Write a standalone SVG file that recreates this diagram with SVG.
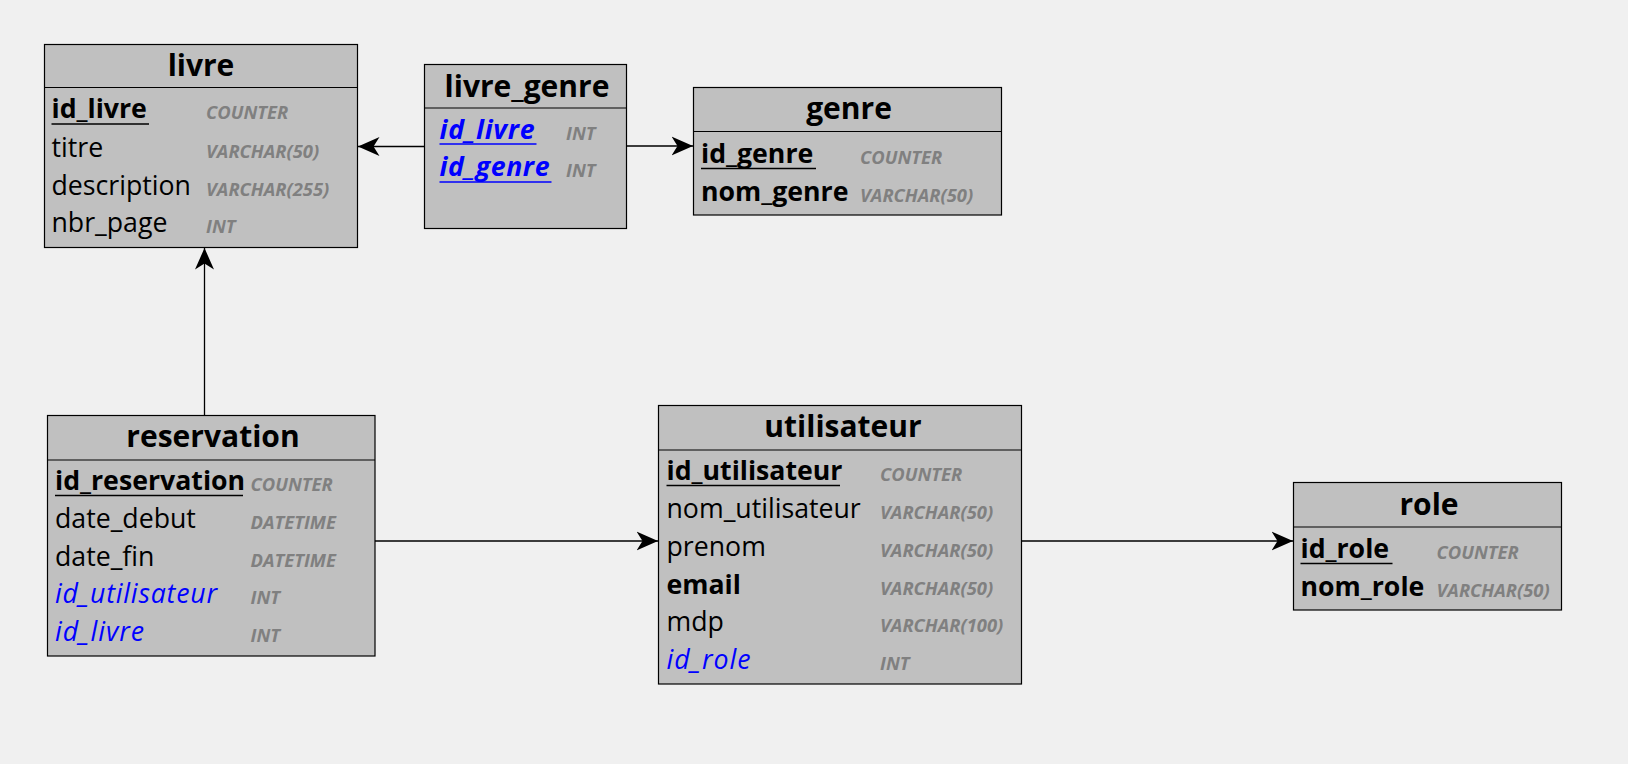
<svg xmlns="http://www.w3.org/2000/svg" width="1628" height="764" viewBox="0 0 1628 764">
<style>
.box{fill:#c0c0c0;stroke:#000;stroke-width:1.2}
.sep{stroke:#000;stroke-width:1.2}
.ttl{font-family:"Open Sans","Noto Sans",sans-serif;font-weight:bold;font-size:30px;fill:#000;text-anchor:middle}
.at{font-family:"Open Sans","Noto Sans",sans-serif;font-size:26.7px;fill:#000}
.b{font-weight:bold}
.fk{fill:#0000ff;font-style:italic}
.ty{font-family:"Open Sans","Noto Sans",sans-serif;font-size:18.4px;font-weight:bold;font-style:italic;fill:#808080}
.ul{stroke:#000;stroke-width:1.5}
.ulb{stroke:#0000ff;stroke-width:1.5}
.con{fill:none;stroke:#000;stroke-width:1.3}
</style>
<defs>
<marker id="arr" markerUnits="userSpaceOnUse" markerWidth="22" markerHeight="20" viewBox="0 0 22 20" refX="21.5" refY="10" orient="auto">
<path d="M21.5,10 L0,0.5 L6,10 L0,19.5 Z" fill="#000"/>
</marker>
</defs>
<rect width="1628" height="764" fill="#f0f0f0"/>
<g id="connectors">
<path class="con" d="M424.5,146.5 H358" marker-end="url(#arr)"/>
<path class="con" d="M626.5,146 H693" marker-end="url(#arr)"/>
<path class="con" d="M204.5,415.5 V248" marker-end="url(#arr)"/>
<path class="con" d="M375,541 H658" marker-end="url(#arr)"/>
<path class="con" d="M1021.5,541 H1293" marker-end="url(#arr)"/>
</g>
<g id="livre">
<rect class="box" x="44.5" y="44.5" width="313" height="203"/>
<line class="sep" x1="44.5" y1="87.5" x2="357.5" y2="87.5"/>
<text class="ttl" x="201" y="76">livre</text>
<text class="at b" x="51.5" y="118">id_livre</text>
<line class="ul" x1="51.5" y1="124" x2="149" y2="124"/>
<text class="ty" x="206" y="119">COUNTER</text>
<text class="at" x="51.5" y="156.5">titre</text>
<text class="ty" x="206" y="157.5">VARCHAR(50)</text>
<text class="at" x="51.5" y="194.5">description</text>
<text class="ty" x="206" y="195.5">VARCHAR(255)</text>
<text class="at" x="51.5" y="232">nbr_page</text>
<text class="ty" x="206" y="233">INT</text>
</g>
<g id="livre_genre">
<rect class="box" x="424.5" y="64.5" width="202" height="164"/>
<line class="sep" x1="424.5" y1="108" x2="626.5" y2="108"/>
<text class="ttl" x="527" y="97">livre_genre</text>
<text class="at b fk" x="439.5" y="138.5" textLength="95" lengthAdjust="spacing">id_livre</text>
<line class="ulb" x1="439.5" y1="144" x2="536.5" y2="144"/>
<text class="ty" x="566" y="139.5">INT</text>
<text class="at b fk" x="439.5" y="176" textLength="110" lengthAdjust="spacing">id_genre</text>
<line class="ulb" x1="439.5" y1="182" x2="551.5" y2="182"/>
<text class="ty" x="566" y="177">INT</text>
</g>
<g id="genre">
<rect class="box" x="693.5" y="87.5" width="308" height="127.5"/>
<line class="sep" x1="693.5" y1="131.5" x2="1001.5" y2="131.5"/>
<text class="ttl" x="849" y="118.5">genre</text>
<text class="at b" x="701" y="162.5">id_genre</text>
<line class="ul" x1="701" y1="168.5" x2="816" y2="168.5"/>
<text class="ty" x="860" y="163.5">COUNTER</text>
<text class="at b" x="701" y="200.5">nom_genre</text>
<text class="ty" x="860" y="201.5">VARCHAR(50)</text>
</g>
<g id="reservation">
<rect class="box" x="47.5" y="415.5" width="327.5" height="240.5"/>
<line class="sep" x1="47.5" y1="460" x2="375" y2="460"/>
<text class="ttl" x="213" y="447">reservation</text>
<text class="at b" x="55" y="489.5">id_reservation</text>
<line class="ul" x1="55" y1="495.5" x2="243" y2="495.5"/>
<text class="ty" x="250.5" y="490.5">COUNTER</text>
<text class="at" x="55" y="527.5">date_debut</text>
<text class="ty" x="250.5" y="528.5">DATETIME</text>
<text class="at" x="55" y="565.5">date_fin</text>
<text class="ty" x="250.5" y="566.5">DATETIME</text>
<text class="at fk" x="55" y="603" textLength="162" lengthAdjust="spacing">id_utilisateur</text>
<text class="ty" x="250.5" y="604">INT</text>
<text class="at fk" x="55" y="641" textLength="89" lengthAdjust="spacing">id_livre</text>
<text class="ty" x="250.5" y="642">INT</text>
</g>
<g id="utilisateur">
<rect class="box" x="658.5" y="405.5" width="363" height="278.5"/>
<line class="sep" x1="658.5" y1="450" x2="1021.5" y2="450"/>
<text class="ttl" x="843" y="437">utilisateur</text>
<text class="at b" x="666.5" y="479.5">id_utilisateur</text>
<line class="ul" x1="666.5" y1="485.5" x2="840" y2="485.5"/>
<text class="ty" x="880" y="480.5">COUNTER</text>
<text class="at" x="666.5" y="517.5">nom_utilisateur</text>
<text class="ty" x="880" y="518.5">VARCHAR(50)</text>
<text class="at" x="666.5" y="555.5">prenom</text>
<text class="ty" x="880" y="556.5">VARCHAR(50)</text>
<text class="at b" x="666.5" y="593.5">email</text>
<text class="ty" x="880" y="594.5">VARCHAR(50)</text>
<text class="at" x="666.5" y="631">mdp</text>
<text class="ty" x="880" y="632">VARCHAR(100)</text>
<text class="at fk" x="666.5" y="668.5" textLength="84" lengthAdjust="spacing">id_role</text>
<text class="ty" x="880" y="669.5">INT</text>
</g>
<g id="role">
<rect class="box" x="1293.5" y="482.5" width="268" height="127.5"/>
<line class="sep" x1="1293.5" y1="527" x2="1561.5" y2="527"/>
<text class="ttl" x="1429" y="514.5">role</text>
<text class="at b" x="1300.5" y="557.5">id_role</text>
<line class="ul" x1="1300.5" y1="563.5" x2="1392.5" y2="563.5"/>
<text class="ty" x="1436.5" y="558.5">COUNTER</text>
<text class="at b" x="1300.5" y="595.5">nom_role</text>
<text class="ty" x="1436.5" y="596.5">VARCHAR(50)</text>
</g>
</svg>
